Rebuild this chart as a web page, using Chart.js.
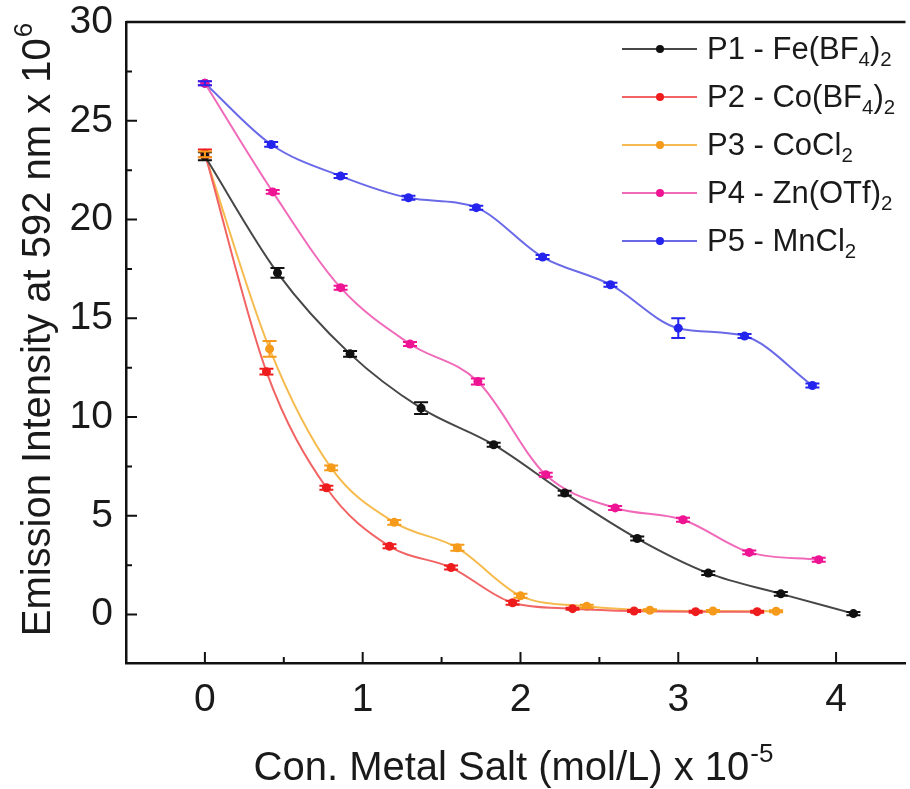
<!DOCTYPE html>
<html>
<head>
<meta charset="utf-8">
<script src="https://cdn.jsdelivr.net/npm/chart.js@4.4.0/dist/chart.umd.min.js"></script>
<style>
  html, body { margin: 0; padding: 0; background: #fff; }
  #wrap { position: relative; width: 910px; height: 789px; overflow: hidden; }
  #legend { position: absolute; left: 622px; top: 25px; font-family: "Liberation Sans", Arial, sans-serif; font-size: 31px; color: #1a1a1a; }
  .row { display: flex; align-items: center; height: 48px; white-space: nowrap; }
  .sw { position: relative; width: 75px; height: 2px; margin-right: 10px; }
  .sw i { position: absolute; left: 34px; top: -3px; width: 8px; height: 8px; border-radius: 50%; }
  sub { font-size: 0.66em; vertical-align: -0.34em; line-height: 0; }
</style>
</head>
<body>
<div id="wrap">
  <canvas id="chart" width="910" height="789"></canvas>
  <div id="legend"></div>
</div>
<script>
// --- données ---
const xTicks = [0, 1, 2, 3, 4];
const yTicks = [0, 5, 10, 15, 20, 25, 30];

const xP1 = [0, 0.46, 0.92, 1.37, 1.83, 2.28, 2.74, 3.19, 3.65, 4.11];
const yP1 = [23.2, 17.3, 13.2, 10.45, 8.6, 6.15, 3.85, 2.1, 1.05, 0.05];
const eP1 = [0.2, 0.25, 0.15, 0.3, 0.1, 0.12, 0.1, 0.1, 0.1, 0.08];

const xP2 = [0, 0.39, 0.77, 1.17, 1.56, 1.95, 2.33, 2.72, 3.11, 3.5];
const yP2 = [23.35, 12.3, 6.42, 3.46, 2.38, 0.6, 0.3, 0.18, 0.15, 0.15];
const eP2 = [0.2, 0.15, 0.1, 0.1, 0.1, 0.1, 0.05, 0.05, 0.05, 0.05];

const xP3 = [0, 0.41, 0.8, 1.2, 1.6, 2.0, 2.42, 2.82, 3.22, 3.62];
const yP3 = [23.3, 13.45, 7.43, 4.67, 3.38, 0.95, 0.42, 0.22, 0.18, 0.17];
const eP3 = [0.15, 0.4, 0.12, 0.12, 0.15, 0.1, 0.08, 0.05, 0.05, 0.05];

const xP4 = [0, 0.43, 0.86, 1.3, 1.73, 2.16, 2.6, 3.03, 3.45, 3.89];
const yP4 = [26.9, 21.4, 16.55, 13.7, 11.8, 7.08, 5.4, 4.8, 3.15, 2.78];
const eP4 = [0.1, 0.1, 0.1, 0.1, 0.15, 0.1, 0.1, 0.1, 0.1, 0.1];

const xP5 = [0, 0.42, 0.86, 1.29, 1.72, 2.14, 2.57, 3.0, 3.42, 3.85];
const yP5 = [26.9, 23.8, 22.2, 21.1, 20.6, 18.1, 16.7, 14.5, 14.1, 11.6];
const eP5 = [0.1, 0.12, 0.1, 0.1, 0.1, 0.1, 0.1, 0.5, 0.1, 0.1];

const seriesNames = [
  'P1 - Fe(BF<sub>4</sub>)<sub>2</sub>',
  'P2 - Co(BF<sub>4</sub>)<sub>2</sub>',
  'P3 - CoCl<sub>2</sub>',
  'P4 - Zn(OTf)<sub>2</sub>',
  'P5 - MnCl<sub>2</sub>'
];
const lineColors = ['#474747', '#f26464', '#f6bb4e', '#f06ab9', '#6a6ae8'];
const markColors = ['#111111', '#ee1c1c', '#f59a1a', '#ee1493', '#2424ee'];

const FONT = '"Liberation Sans", Arial, sans-serif';

const seriesX = [xP1, xP2, xP3, xP4, xP5];
const seriesY = [yP1, yP2, yP3, yP4, yP5];
const seriesE = [eP1, eP2, eP3, eP4, eP5];

const datasets = seriesX.map((xs, k) => ({
  label: seriesNames[k].replace(/<\/?sub>/g, ''),
  data: xs.map((x, i) => ({ x: x, y: seriesY[k][i] })),
  errors: seriesE[k],
  borderColor: lineColors[k],
  borderWidth: 2,
  pointRadius: 4.5,
  pointBorderWidth: 0,
  pointBackgroundColor: markColors[k],
  cubicInterpolationMode: 'monotone',
  fill: false
}));

// barres d'erreur
const errorBars = {
  id: 'errorBars',
  afterDatasetsDraw(chart) {
    const ctx = chart.ctx, xs = chart.scales.x, ys = chart.scales.y;
    chart.data.datasets.forEach((ds, k) => {
      ctx.save();
      ctx.strokeStyle = markColors[k];
      ctx.lineWidth = 2;
      ds.data.forEach((p, i) => {
        const e = ds.errors[i];
        const px = xs.getPixelForValue(p.x);
        const y1 = ys.getPixelForValue(p.y + e), y2 = ys.getPixelForValue(p.y - e);
        ctx.beginPath();
        ctx.moveTo(px, y1); ctx.lineTo(px, y2);
        ctx.moveTo(px - 7, y1); ctx.lineTo(px + 7, y1);
        ctx.moveTo(px - 7, y2); ctx.lineTo(px + 7, y2);
        ctx.stroke();
      });
      ctx.restore();
    });
  }
};

// cadre, graduations internes et titres des axes
const frame = {
  id: 'frame',
  afterDraw(chart) {
    const ctx = chart.ctx, a = chart.chartArea, xs = chart.scales.x, ys = chart.scales.y;
    ctx.save();
    ctx.strokeStyle = '#111';
    ctx.lineWidth = 2.5;
    ctx.beginPath();
    ctx.moveTo(a.left, a.top); ctx.lineTo(a.right, a.top);
    ctx.stroke();
    ctx.lineWidth = 2;
    ctx.beginPath();
    for (let v = 0; v <= 4.01; v += 0.5) {
      const px = xs.getPixelForValue(v), len = (v % 1 === 0) ? 11 : 6;
      ctx.moveTo(px, a.bottom); ctx.lineTo(px, a.bottom - len);
    }
    for (let v = -2.5; v <= 30.01; v += 2.5) {
      if (v < ys.min) continue;
      const py = ys.getPixelForValue(v), len = (v % 5 === 0) ? 11 : 6;
      ctx.moveTo(a.left, py); ctx.lineTo(a.left + len, py);
    }
    ctx.stroke();

    ctx.fillStyle = '#1a1a1a';
    ctx.textBaseline = 'alphabetic';
    ctx.textAlign = 'left';
    // titre axe x
    const xMain = 'Con. Metal Salt (mol/L) x 10', xSup = '-5';
    ctx.font = '40px ' + FONT;
    const wx = ctx.measureText(xMain).width;
    ctx.font = '26px ' + FONT;
    const wxs = ctx.measureText(xSup).width;
    let sx = 513 - (wx + wxs) / 2;
    ctx.font = '40px ' + FONT;
    ctx.fillText(xMain, sx, 780);
    ctx.font = '26px ' + FONT;
    ctx.fillText(xSup, sx + wx + 1, 762);
    // titre axe y
    const yMain = 'Emission Intensity at 592 nm x 10', ySup = '6';
    ctx.translate(50, 330);
    ctx.rotate(-Math.PI / 2);
    ctx.font = '40px ' + FONT;
    const wy = ctx.measureText(yMain).width;
    ctx.font = '26px ' + FONT;
    const wys = ctx.measureText(ySup).width;
    sx = -(wy + wys) / 2;
    ctx.font = '40px ' + FONT;
    ctx.fillText(yMain, sx, 0);
    ctx.font = '26px ' + FONT;
    ctx.fillText(ySup, sx + wy + 1, -18);
    ctx.restore();
  }
};

new Chart(document.getElementById('chart'), {
  type: 'line',
  data: { datasets: datasets },
  options: {
    responsive: false,
    animation: false,
    devicePixelRatio: 1,
    layout: { padding: { top: 22, right: 0, left: 0, bottom: 0 } },
    plugins: { legend: { display: false }, tooltip: { enabled: false } },
    scales: {
      x: {
        type: 'linear',
        min: -0.5,
        max: 4.44,
        afterBuildTicks: s => { s.ticks = xTicks.map(v => ({ value: v })); },
        afterFit: s => { s.height = 126; s.paddingLeft = 0; s.paddingRight = 0; },
        grid: { display: false, drawTicks: false },
        border: { display: true, color: '#111', width: 2.5 },
        ticks: { font: { size: 39, family: FONT }, color: '#1a1a1a', padding: 14, maxRotation: 0 }
      },
      y: {
        type: 'linear',
        min: -2.45,
        max: 30,
        afterBuildTicks: s => { s.ticks = yTicks.map(v => ({ value: v })); },
        afterFit: s => { s.width = 126; s.paddingTop = 0; s.paddingBottom = 0; },
        grid: { display: false, drawTicks: false },
        border: { display: true, color: '#111', width: 2.5 },
        ticks: { font: { size: 39, family: FONT }, color: '#1a1a1a', padding: 13 }
      }
    }
  },
  plugins: [errorBars, frame]
});

// légende HTML (indices chimiques)
const legend = document.getElementById('legend');
seriesNames.forEach((name, k) => {
  const row = document.createElement('div');
  row.className = 'row';
  row.innerHTML = '<span class="sw" style="background:' + lineColors[k] + '"><i style="background:' +
    markColors[k] + '"></i></span><span>' + name + '</span>';
  legend.appendChild(row);
});
</script>
</body>
</html>
